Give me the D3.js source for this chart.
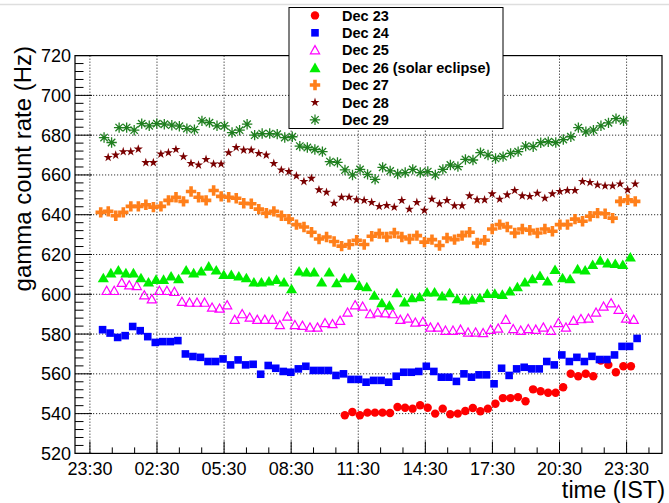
<!DOCTYPE html>
<head>
  <meta charset="utf-8">
  <script src="https://d3js.org/d3.v7.min.js"></script>

  <style>
    body { margin: 0; background: #fff; }
    text { font-family: 'Liberation Sans', Arial, Helvetica, sans-serif; fill: #000; }
    .legend-text { font-weight: bold; font-size: 14.5px; }
  </style>
</head>

<body>
  <div id="chart"></div>

  <script>
    // tick labels of the time axis (every 3 hours starting from 23:30)
    var timeLabels = ["23:30", "02:30", "05:30", "08:30", "11:30", "14:30", "17:30", "20:30", "23:30"];
    var rateTicks = [520, 540, 560, 580, 600, 620, 640, 660, 680, 700, 720];

    var dayNames = ["Dec 23", "Dec 24", "Dec 25", "Dec 26 (solar eclipse)", "Dec 27", "Dec 28", "Dec 29"];

    // first sample of each day, in minutes after 23:30, and the sample spacing
    var dayStart = [684, 34, 45, 36, 29, 49, 38];
    var sampleStep = 20.2;

    var dec23 = [539.2, 540.8, 539.2, 540.5, 540.5, 540.5, 540.3, 543.3, 543, 542.5, 544.2, 543, 540, 542.5, 539.7, 540,
      541.3, 542.8, 541.2, 542.5, 545, 547.8, 547.8, 548.3, 546.2, 552.2, 551.2, 550.5, 550.5, 553.3, 560, 558.8, 560,
      558.8, 566.7, 564.5, 560.8, 563.8, 563.8];

    var dec24 = [582.2, 580.5, 578.3, 579.2, 583.8, 581.7, 578.7, 575.8, 576.2, 576.2, 576.7, 570, 568.7, 568.3, 566.2,
      566.2, 567.5, 564.5, 567, 564.5, 564.8, 559.8, 564.2, 562.8,
      561.2, 560.8, 562.5, 563.8, 561.7, 561.7, 561.7, 559.2, 560, 557.2, 557.2, 555.8, 556.7, 556.7, 555.8, 558.8,
      560.8, 560.8, 561.2, 563.8, 561.2, 558.3, 558.3, 556.2,
      560, 558.3, 559.5, 559.5, 555, 562.8, 559.2, 562.5, 563.3, 562.5, 562.5, 566.2, 564.5, 569.5, 566.2, 568.3,
      566.2, 568.8, 567.2, 567.2, 569.5, 573.8, 573.8, 577.8];

    var dec25 = [601.7, 601.7, 605.8, 604.5, 604.2, 599.5, 597.5, 601.7, 601.7, 601.2, 596.2, 595.8, 595.8, 595.8, 593.3,
      592.8, 594.5, 587.2, 590, 588.3, 587.2, 587.2, 587.2, 584.5,
      588.8, 584.5, 584.2, 583.3, 583.3, 585.5, 585, 586.7, 590.8, 594.5, 593.8, 590, 590.8, 590.5, 590, 587.2, 587.8,
      585.8, 586.2, 583.3, 583.3, 581.7, 581.7, 582.2, 580.8,
      580.8, 580.5, 582.2, 582.8, 587.2, 582.5, 581.7, 582.5, 582.2, 583.3, 581.7, 585.5, 583.3, 586.7, 587.5, 587.8,
      590.8, 593.8, 595.5, 592.2, 587.8, 587.2];

    var dec26 = [608.3, 610.8, 612.2, 610.8, 610.8, 608.3, 606.2, 607.5, 607.5, 609.2, 607.8, 612.2, 610.8, 611.7, 614.2,
      612.2, 610, 610, 609.2, 608.3, 606.2, 606.2, 606.7, 607.5,
      606.2, 602.8, 611.7, 611.2, 611.2, 606.2, 611.2, 605.8, 608.3, 608.3, 604.5, 603.8, 599.5, 595.8, 594.5, 600.8,
      596.2, 598.3, 598.8, 601.2, 601.2, 599.2, 600.8, 597.8, 597.2,
      597.5, 598.3, 600.5, 600.5, 600, 601.7, 603.8, 606.2, 607.8, 609.5, 606.7, 612.5, 608.3, 607.8, 612.8, 612.2,
      615, 617.2, 615.8, 615.5, 615, 618.8];

    var dec27 = [641.2, 641.7, 639.5, 641.2, 644.2, 644.2, 645, 643.8, 644.2, 647.2, 648.8, 646.7, 651.7, 648.8, 647.2,
      652.2, 649.2, 648.8, 648.3, 645.8, 645.5, 642.8, 640.8, 641.7,
      639.5, 637.8, 635, 633.8, 631.2, 627.8, 628.8, 626.5, 624.2, 625, 627.2, 625, 629.2, 630.5, 628.8, 630.8, 628.8,
      627.8, 629.5, 626.2, 627.5, 624.5, 628.3, 627.5,
      629.5, 631.2, 625.8, 627.2, 632.8, 635, 633.8, 630.8, 632.8, 632.2, 630.8, 632.8, 631.7, 635, 635, 637.8, 636.7,
      639.2, 640.8, 640.5, 638.3, 646.7, 647.5, 646.7];

    var dec28 = [668.8, 670, 671.7, 671.7, 673, 666.2, 666.2, 670.5, 671.2, 672.8, 669.2, 665.8, 665, 667.8, 665.5, 665.5,
      671.2, 673.8, 672.5, 672.5, 670.8, 670, 665.8,
      662.5, 661.7, 659.5, 656.7, 658.3, 652.5, 651.3, 645.8, 648.8, 648.8, 647.5, 647.2, 646.2, 644.2, 644.7, 643.8,
      647.2, 642.8, 646.2, 642.2, 647.8, 645.5, 647.2, 644.5, 644.5,
      649.5, 647.5, 647.5, 650.5, 647.8, 650, 652.2, 649.5, 649.2, 650.8, 648.3, 650.5, 651.7, 652.2, 652.2, 656.7,
      656.2, 655, 654.5, 654.5, 655.5, 652.5, 655.5];

    var dec29 = [678.8, 676.3, 683.8, 683.8, 682.5, 685.8, 684.7, 685.8, 685.5, 685, 684.5, 683.3, 682.8, 687.2, 686.3,
      684.7, 684.7, 681.3, 682.5, 685.5, 680, 680.8, 680.8, 680.5,
      678.8, 679.2, 674.5, 673.8, 672.8, 671.7, 666.7, 666.3, 662.5, 660, 662.8, 660.3, 657.8, 663.8, 662, 660.5,
      661.2, 662.8, 661.2, 661.7, 660, 662.8, 665, 664.2,
      667.8, 667.5, 671.2, 670, 668.3, 669.2, 670.8, 671.7, 674.5, 674.2, 676.2, 676.7, 676.3, 677.8, 679.2, 683.8,
      681.7, 682.5, 684.7, 686.2, 688.3, 687.2];

    var allDays = [dec23, dec24, dec25, dec26, dec27, dec28, dec29];

    var w = 669, h = 503;
    var frame = { left: 75, right: 662, top: 55.6, bottom: 453.4 };

    var x = d3.scaleLinear().domain([-40, 1535]).range([frame.left, frame.right]);
    var y = d3.scaleLinear().domain([520, 720]).range([frame.bottom, frame.top]);

    var svg = d3.select("#chart")
      .append("svg")
      .attr("width", w)
      .attr("height", h);

    svg.append("rect").attr("width", w).attr("height", h).attr("fill", "#fff");
    svg.append("line")
      .attr("x1", 0).attr("x2", w).attr("y1", 4.5).attr("y2", 4.5)
      .attr("stroke", "#dedede").attr("stroke-width", 1.6);

    // marker shapes (ROOT style markers)
    var markers = [
      { draw: d3.symbol(d3.symbolCircle, 56)(), fill: "#ff0000", stroke: "none" },
      { draw: "M-3.8,-3.8H3.8V3.8H-3.8Z", fill: "#0000ff", stroke: "none" },
      { draw: "M0,-4.6L4.6,3.6L-4.6,3.6Z", fill: "none", stroke: "#ff00ff" },
      { draw: "M0,-5L5.6,4.6L-5.6,4.6Z", fill: "#00ee00", stroke: "none" },
      { draw: "M-1.8,-5.2H1.8V-1.8H5.2V1.8H1.8V5.2H-1.8V1.8H-5.2V-1.8H-1.8Z", fill: "#ff7f1a", stroke: "none" },
      { draw: d3.symbol(d3.symbolStar, 26)(), fill: "#7a0000", stroke: "none" },
      { draw: "M-5.2,0H5.2M0,-5.2V5.2M-3.7,-3.7L3.7,3.7M-3.7,3.7L3.7,-3.7", fill: "none", stroke: "#1f7f1f" }
    ];

    // grid
    var gridX = d3.range(0, 1441, 180);
    svg.append("g").selectAll("line")
      .data(gridX)
      .join("line")
      .attr("x1", d => x(d)).attr("x2", d => x(d))
      .attr("y1", frame.top).attr("y2", frame.bottom)
      .attr("stroke", "#333").attr("stroke-width", 1).attr("stroke-dasharray", "1.2,1.8");

    svg.append("g").selectAll("line")
      .data(rateTicks.slice(1, -1))
      .join("line")
      .attr("x1", frame.left).attr("x2", frame.right)
      .attr("y1", d => y(d)).attr("y2", d => y(d))
      .attr("stroke", "#333").attr("stroke-width", 1).attr("stroke-dasharray", "1.2,1.8");

    // ticks inside the frame
    var ticks = svg.append("g").attr("stroke", "#000").attr("stroke-width", 1);
    ticks.selectAll(".tx")
      .data(d3.range(0, 1535, 60))
      .join("line")
      .attr("class", "tx")
      .attr("x1", d => x(d)).attr("x2", d => x(d))
      .attr("y1", frame.bottom)
      .attr("y2", d => frame.bottom - (d % 180 === 0 ? 12 : 6));
    ticks.selectAll(".ty")
      .data(d3.range(520, 721, 4))
      .join("line")
      .attr("class", "ty")
      .attr("x1", frame.left)
      .attr("x2", d => frame.left + ((d - 520) % 20 === 0 ? 17 : 8.5))
      .attr("y1", d => y(d)).attr("y2", d => y(d));

    svg.append("rect")
      .attr("x", frame.left).attr("y", frame.top)
      .attr("width", frame.right - frame.left).attr("height", frame.bottom - frame.top)
      .attr("fill", "none").attr("stroke", "#000").attr("stroke-width", 1.2);

    // tick labels
    svg.append("g").selectAll("text")
      .data(timeLabels)
      .join("text")
      .attr("x", (d, i) => x(gridX[i]))
      .attr("y", 475)
      .attr("text-anchor", "middle")
      .style("font-size", "18px")
      .text(d => d);

    svg.append("g").selectAll("text")
      .data(rateTicks)
      .join("text")
      .attr("x", 71)
      .attr("y", d => y(d))
      .attr("dy", "0.36em")
      .attr("text-anchor", "end")
      .style("font-size", "18px")
      .text(d => d);

    // axis titles
    svg.append("text")
      .attr("transform", "translate(31,46) rotate(-90)")
      .attr("text-anchor", "end")
      .style("font-size", "24px")
      .text("gamma count rate (Hz)");

    svg.append("text")
      .attr("x", 665).attr("y", 498)
      .attr("text-anchor", "end")
      .style("font-size", "23.5px")
      .text("time (IST)");

    // data points
    allDays.forEach(function (vals, s) {
      svg.append("g").selectAll("path")
        .data(vals)
        .join("path")
        .attr("transform", (d, i) => "translate(" + x(dayStart[s] + i * sampleStep) + "," + y(d) + ")")
        .attr("d", markers[s].draw)
        .attr("fill", markers[s].fill)
        .attr("stroke", markers[s].stroke)
        .attr("stroke-width", s === 6 ? 1.3 : 1.2);
    });

    // legend
    var legend = svg.append("g");
    legend.append("rect")
      .attr("x", 289).attr("y", 7.5)
      .attr("width", 214).attr("height", 121)
      .attr("fill", "#fff").attr("stroke", "#000").attr("stroke-width", 1);

    var rows = legend.selectAll(".row")
      .data(dayNames)
      .join("g")
      .attr("class", "row")
      .attr("transform", (d, i) => "translate(0," + (15.4 + i * 17.4) + ")");

    rows.append("path")
      .attr("transform", "translate(315,0)")
      .attr("d", (d, i) => markers[i].draw)
      .attr("fill", (d, i) => markers[i].fill)
      .attr("stroke", (d, i) => markers[i].stroke)
      .attr("stroke-width", 1.2);

    rows.append("text")
      .attr("class", "legend-text")
      .attr("x", 342)
      .attr("y", 5.2)
      .text(d => d);
  </script>
</body>

</html>
